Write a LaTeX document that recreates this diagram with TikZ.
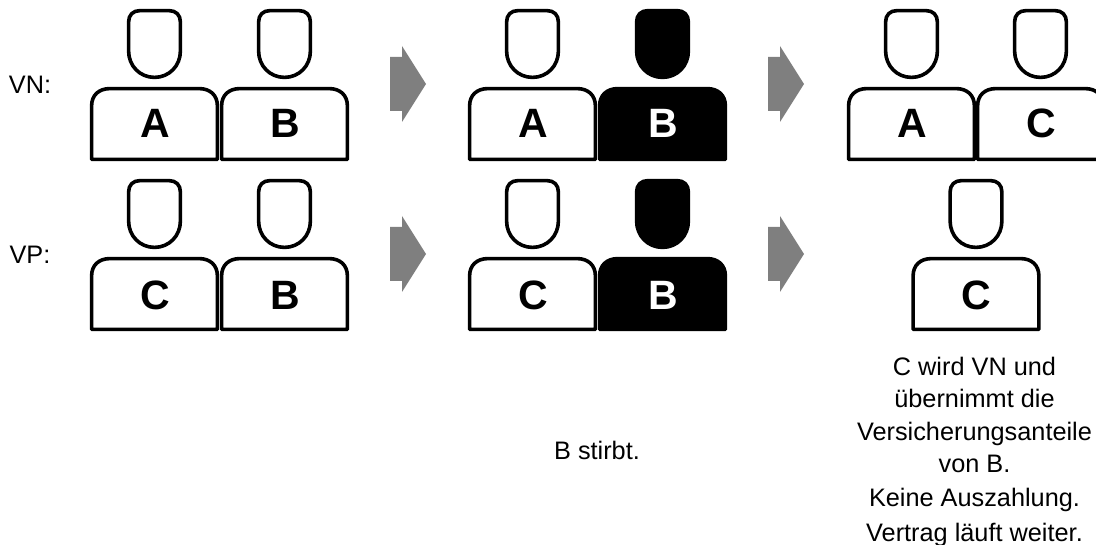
\documentclass[tikz,border=0pt]{standalone}
\usepackage{fontspec}
\setmainfont{Liberation Sans}
\definecolor{arrowgrey}{HTML}{7F7F7F}
\tikzset{
  x=1pt,y=-1pt,
  outline/.style={draw=black,line width=3.6pt,line join=round,fill=white},
  deadshape/.style={draw=black,line width=3.6pt,line join=round,fill=black},
  letter/.style={font=\fontsize{41}{41}\selectfont\bfseries,inner sep=0pt,anchor=center},
  caption/.style={font=\fontsize{25.3}{32.3}\selectfont,align=center,inner sep=0pt,anchor=center},
  blockarrow/.style={fill=arrowgrey,draw=none}
}
\newcommand{\lettery}{36.5}
% #1 name, #2 body left, #3 body top, #4 shape style, #5 text colour, #6 letter
\newcommand{\personfig}[6]{%
  \begin{scope}[shift={(#2,#3)}]
    \path[#4] (38.6,-36) -- (38.6,-65) .. controls (38.6,-72) and (43,-76.4) .. (50,-76.4) -- (79,-76.4) .. controls (86,-76.4) and (90.4,-72) .. (90.4,-65) -- (90.4,-36) .. controls (90.4,-21) and (79,-9.6) .. (64.5,-9.6) .. controls (50,-9.6) and (38.6,-21) .. (38.6,-36) -- cycle;
    \path[#4] (1.6,72.4) -- (1.6,19) .. controls (1.6,8) and (9,1.6) .. (20,1.6) -- (109,1.6) .. controls (120,1.6) and (127.4,8) .. (127.4,19) -- (127.4,72.4) -- cycle;
    \node[letter,text=#5] (#1) at (65,\lettery) {#6};
  \end{scope}}
\newcommand{\blockarr}[2]{%
  \fill[blockarrow] (#1,#2-27) -- (#1+12,#2-27) -- (#1+12,#2-38) -- (#1+36,#2) -- (#1+12,#2+38) -- (#1+12,#2+27) -- (#1,#2+27) -- cycle;}
\begin{document}
\begin{tikzpicture}
\clip (0,0) rectangle (1096,545);
\path[use as bounding box] (0,0) rectangle (1096,545);
\node[caption] (vn) at (30,85) {VN:};
\node[caption] (vp) at (30,255) {VP:};
\personfig{a1}{90}{87}{outline}{black}{A}
\personfig{b1}{220}{87}{outline}{black}{B}
\personfig{a3}{468}{87}{outline}{black}{A}
\personfig{b3}{598}{87}{deadshape}{white}{B}
\personfig{a5}{847}{87}{outline}{black}{A}
\personfig{c5}{976}{87}{outline}{black}{C}
\renewcommand{\lettery}{38}
\personfig{c2}{90}{257}{outline}{black}{C}
\personfig{b2}{220}{257}{outline}{black}{B}
\personfig{c4}{468}{257}{outline}{black}{C}
\personfig{b4}{598}{257}{deadshape}{white}{B}
\personfig{c6}{911.5}{257}{outline}{black}{C}
\blockarr{390}{84}
\blockarr{390}{254}
\blockarr{768}{84}
\blockarr{768}{254}
\node[caption] (death) at (597,450) {B stirbt.};
\node[caption] (result) at (974.5,452) {C wird VN und\\übernimmt die\\Versicherungsanteile\\von B.\\[1.7pt]Keine Auszahlung.\\[2.7pt]Vertrag läuft weiter.};
\end{tikzpicture}
\end{document}
